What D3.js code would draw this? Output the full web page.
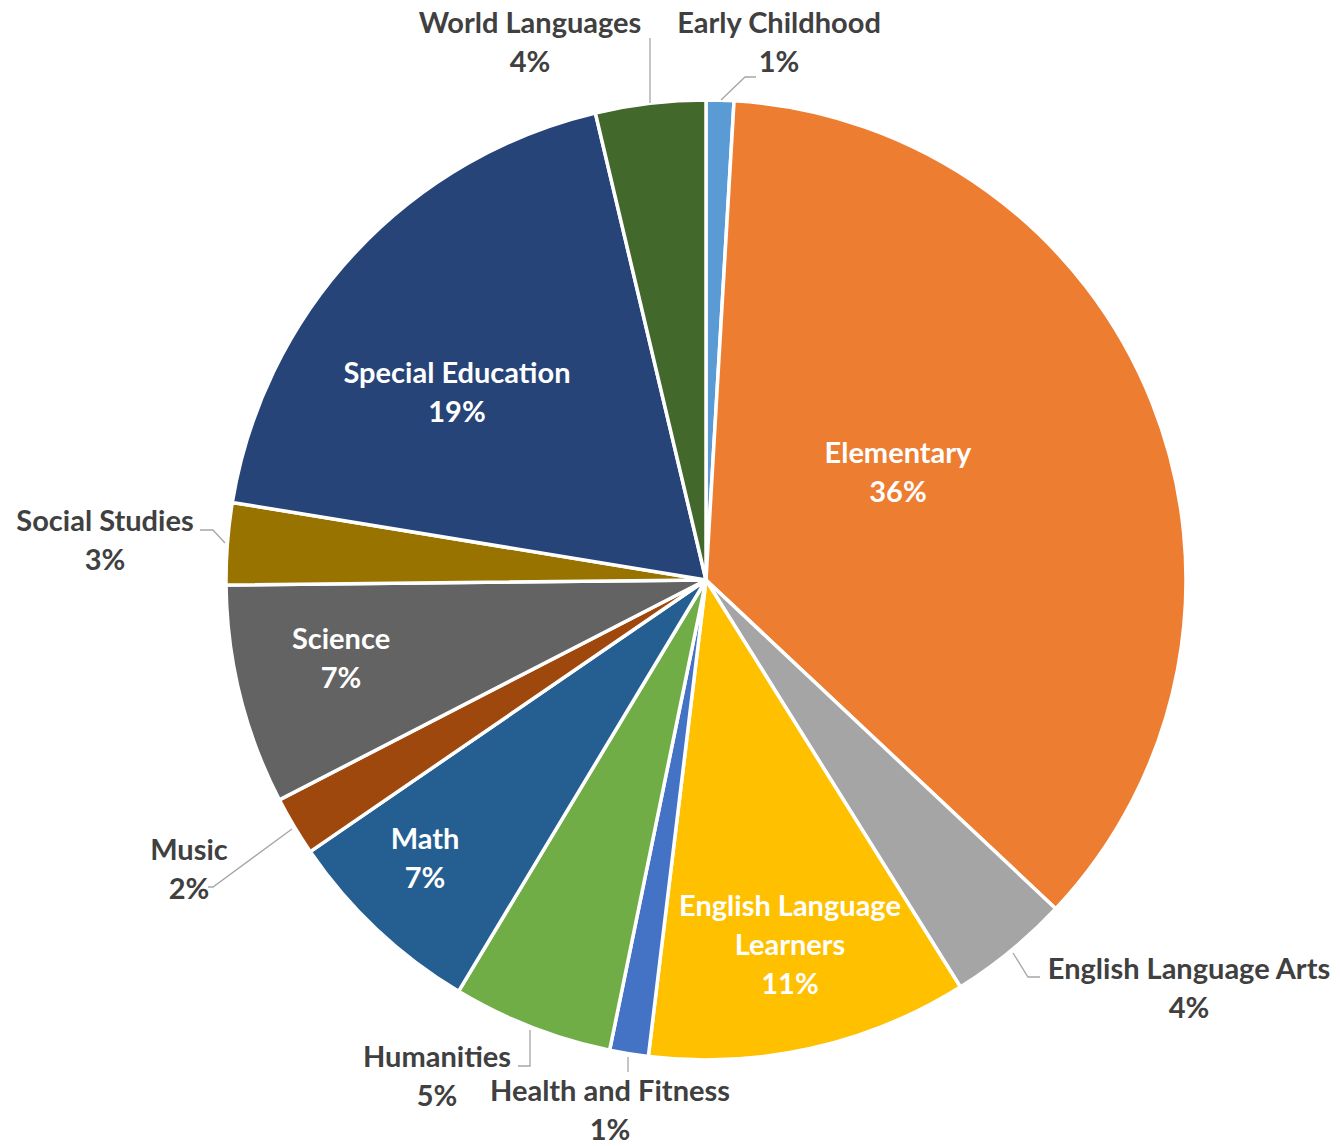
<!DOCTYPE html>
<html>
<head>
<meta charset="utf-8">
<script src="https://cdn.jsdelivr.net/npm/d3@7"></script>
<style>
  html, body { margin: 0; padding: 0; background: #ffffff; }
  svg { display: block; }
  text { font-family: Lato, "Open Sans", sans-serif; font-weight: 700; }
</style>
</head>
<body>
<svg id="chart" width="1340" height="1146"></svg>
<script>
// Share of positions by subject area (percent), clockwise from 12 o'clock
const categories = [
  "Early Childhood", "Elementary", "English Language Arts",
  "English Language Learners", "Health and Fitness", "Humanities",
  "Math", "Music", "Science", "Social Studies",
  "Special Education", "World Languages"
];
const shares = [0.93, 36.05, 4.1, 10.8, 1.3, 5.4, 6.8, 2.0, 7.4, 2.75, 18.7, 3.7];

// Office-style palette, one colour per category
const colors = [
  "#5B9BD5", "#ED7D31", "#A5A5A5", "#FFC000", "#4472C4", "#70AD47",
  "#255E91", "#9E480E", "#636363", "#997300", "#264478", "#43682B"
];

// Label layout: text lines' centre offsets from the pie centre, whether the
// label sits inside the slice, and leader-line points for outside labels.
const labelLayout = {
  "Early Childhood":           { at: [73, -558],  inside: false, lines: ["Early Childhood"],
                                 leader: [[15, -480], [39, -503], [50, -503]] },
  "Elementary":                { at: [192, -128], inside: true,  lines: ["Elementary"] },
  "English Language Arts":     { at: [483, 388],  inside: false, lines: ["English Language Arts"],
                                 leader: [[307, 373], [322, 397], [334, 397]] },
  "English Language Learners": { at: [84, 325],   inside: true,  lines: ["English Language", "Learners"] },
  "Health and Fitness":        { at: [-96, 510],  inside: false, lines: ["Health and Fitness"],
                                 leader: [[-78, 477], [-78, 492]] },
  "Humanities":                { at: [-269, 476], inside: false, lines: ["Humanities"],
                                 leader: [[-176, 450], [-176, 486], [-188, 486]] },
  "Math":                      { at: [-281, 258], inside: true,  lines: ["Math"] },
  "Music":                     { at: [-517, 269], inside: false, lines: ["Music"],
                                 leader: [[-414, 249], [-493, 307], [-498, 307]] },
  "Science":                   { at: [-365, 58],  inside: true,  lines: ["Science"] },
  "Social Studies":            { at: [-601, -60], inside: false, lines: ["Social Studies"],
                                 leader: [[-506, -50], [-493, -50], [-481, -37]] },
  "Special Education":         { at: [-249, -208], inside: true, lines: ["Special Education"] },
  "World Languages":           { at: [-176, -558], inside: false, lines: ["World Languages"],
                                 leader: [[-56, -477], [-56, -542]] }
};

const cx = 706, cy = 580, radius = 480;
const lineGap = 39;      // distance between label lines
const capHalf = 10.5;    // shift from visual centre to baseline

const svg = d3.select("#chart");
const g = svg.append("g").attr("transform", `translate(${cx},${cy})`);

const data = categories.map((c, i) => ({ category: c, value: shares[i], color: colors[i] }));
const total = d3.sum(shares);

const pie = d3.pie().value(d => d.value).sort(null);
const arc = d3.arc().innerRadius(0).outerRadius(radius);
const arcs = pie(data);

// Slices
g.selectAll("path.slice")
  .data(arcs)
  .join("path")
  .attr("class", "slice")
  .attr("d", arc)
  .attr("fill", d => d.data.color)
  .attr("stroke", "#ffffff")
  .attr("stroke-width", 3.5)
  .attr("stroke-linejoin", "round");

// Leader lines for labels placed outside the pie
const line = d3.line();
g.selectAll("path.leader")
  .data(arcs.filter(d => labelLayout[d.data.category].leader))
  .join("path")
  .attr("class", "leader")
  .attr("d", d => line(labelLayout[d.data.category].leader))
  .attr("fill", "none")
  .attr("stroke", "#A6A6A6")
  .attr("stroke-width", 1.3);

// Category name and rounded percentage
const pct = v => Math.round(v / total * 100) + "%";
const labels = g.selectAll("text.label")
  .data(arcs)
  .join("text")
  .attr("class", "label")
  .attr("text-anchor", "middle")
  .attr("font-size", 29)
  .attr("fill", d => labelLayout[d.data.category].inside ? "#ffffff" : "#404040");

labels.each(function (d) {
  const lay = labelLayout[d.data.category];
  const rows = lay.lines.concat([pct(d.data.value)]);
  d3.select(this).selectAll("tspan")
    .data(rows)
    .join("tspan")
    .attr("x", lay.at[0])
    .attr("y", (r, i) => lay.at[1] + i * lineGap + capHalf)
    .text(r => r);
});
</script>
</body>
</html>
